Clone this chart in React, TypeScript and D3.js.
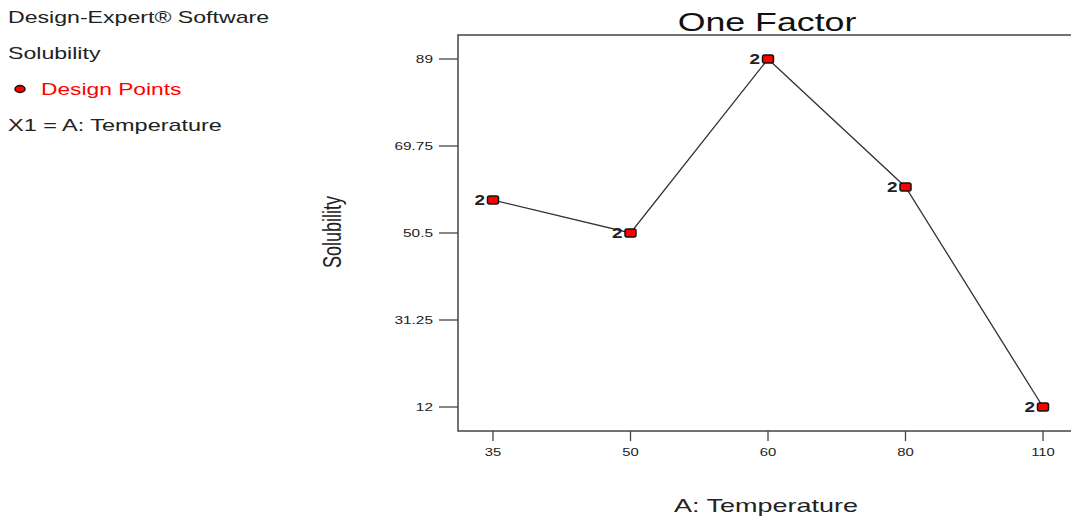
import React, { useEffect, useRef } from 'react';
import * as d3 from 'd3';

// chart data
const temperatures = ['35', '50', '60', '80', '110'];
const solubility = [57.8, 50.5, 89, 60.7, 12];
const replicates = [2, 2, 2, 2, 2];
const yTicks = [12, 31.25, 50.5, 69.75, 89];
const legendLines = ['Design-Expert® Software', 'Solubility'];

const FONT = 'Arial, "Liberation Sans", sans-serif';

const App = () => {
  const svgRef = useRef<SVGSVGElement>(null);

  useEffect(() => {
    const width = 1071;
    const height = 517;
    const frame = { left: 458, top: 35, right: 1090, bottom: 431 };

    const svg = d3.select(svgRef.current);
    svg.selectAll('*').remove();
    svg.attr('width', width).attr('height', height);

    // scales
    const x = d3.scalePoint<string>().domain(temperatures).range([493, 1043]);
    const y = d3.scaleLinear().domain([12, 89]).range([407, 59]);

    // the source picture is stretched sideways, so text is widened with scale(sx,1)
    const place = (px: number, py: number, sx: number) =>
      `translate(${px},${py}) scale(${sx},1)`;

    // legend block on the left
    svg
      .selectAll('text.legend')
      .data(legendLines)
      .enter()
      .append('text')
      .attr('class', 'legend')
      .attr('transform', (_, i) => place(8, 23 + i * 36, 1.36))
      .attr('font-family', FONT)
      .attr('font-size', 17)
      .attr('fill', '#222')
      .text((d) => d);

    svg
      .append('ellipse')
      .attr('cx', 20)
      .attr('cy', 89)
      .attr('rx', 5)
      .attr('ry', 3.5)
      .attr('fill', 'red')
      .attr('stroke', '#111')
      .attr('stroke-width', 1.5);

    svg
      .append('text')
      .attr('transform', place(41, 95, 1.34))
      .attr('font-family', FONT)
      .attr('font-size', 17)
      .attr('fill', 'red')
      .text('Design Points');

    svg
      .append('text')
      .attr('transform', place(8, 131, 1.38))
      .attr('font-family', FONT)
      .attr('font-size', 17)
      .attr('fill', '#222')
      .text('X1 = A: Temperature');

    // title
    svg
      .append('text')
      .attr('transform', place(767, 31, 1.43))
      .attr('text-anchor', 'middle')
      .attr('font-family', FONT)
      .attr('font-size', 25)
      .attr('fill', '#111')
      .text('One Factor');

    // frame (left, top, bottom; right side runs off the page)
    svg
      .append('path')
      .attr(
        'd',
        `M${frame.right},${frame.top}H${frame.left}V${frame.bottom}H${frame.right}`
      )
      .attr('fill', 'none')
      .attr('stroke', '#444')
      .attr('stroke-width', 1.5);

    // y axis ticks
    const yAxis = svg.append('g');
    yAxis
      .selectAll('line')
      .data(yTicks)
      .enter()
      .append('line')
      .attr('x1', frame.left - 19)
      .attr('x2', frame.left)
      .attr('y1', (d) => y(d))
      .attr('y2', (d) => y(d))
      .attr('stroke', '#444')
      .attr('stroke-width', 1.3);
    yAxis
      .selectAll('text')
      .data(yTicks)
      .enter()
      .append('text')
      .attr('transform', (d) => place(frame.left - 25, y(d) + 4, 1.4))
      .attr('text-anchor', 'end')
      .attr('font-family', FONT)
      .attr('font-size', 11)
      .attr('fill', '#222')
      .text((d) => String(d));

    // x axis ticks
    const xAxis = svg.append('g');
    xAxis
      .selectAll('line')
      .data(temperatures)
      .enter()
      .append('line')
      .attr('x1', (d) => x(d)!)
      .attr('x2', (d) => x(d)!)
      .attr('y1', frame.bottom)
      .attr('y2', frame.bottom + 10)
      .attr('stroke', '#444')
      .attr('stroke-width', 1.3);
    xAxis
      .selectAll('text')
      .data(temperatures)
      .enter()
      .append('text')
      .attr('transform', (d) => place(x(d)!, frame.bottom + 25, 1.35))
      .attr('text-anchor', 'middle')
      .attr('font-family', FONT)
      .attr('font-size', 11)
      .attr('fill', '#222')
      .text((d) => d);

    // axis titles
    svg
      .append('text')
      .attr('transform', place(766, 512, 1.5))
      .attr('text-anchor', 'middle')
      .attr('font-family', FONT)
      .attr('font-size', 18)
      .attr('fill', '#222')
      .text('A: Temperature');

    svg
      .append('text')
      .attr('transform', `translate(341,232) rotate(-90) scale(1,1.4)`)
      .attr('text-anchor', 'middle')
      .attr('font-family', FONT)
      .attr('font-size', 18)
      .attr('fill', '#222')
      .text('Solubility');

    // line through design points
    const pts = temperatures.map((t, i) => ({ t, v: solubility[i], n: replicates[i] }));
    svg
      .append('path')
      .datum(pts)
      .attr('fill', 'none')
      .attr('stroke', '#333')
      .attr('stroke-width', 1.3)
      .attr(
        'd',
        d3
          .line<{ t: string; v: number }>()
          .x((d) => x(d.t)!)
          .y((d) => y(d.v))
      );

    // markers
    svg
      .selectAll('rect.pt')
      .data(pts)
      .enter()
      .append('rect')
      .attr('class', 'pt')
      .attr('x', (d) => x(d.t)! - 5.5)
      .attr('y', (d) => y(d.v) - 4)
      .attr('width', 11)
      .attr('height', 8)
      .attr('rx', 2)
      .attr('fill', 'red')
      .attr('stroke', '#111')
      .attr('stroke-width', 1.5);

    // replicate counts
    svg
      .selectAll('text.rep')
      .data(pts)
      .enter()
      .append('text')
      .attr('class', 'rep')
      .attr('transform', (d) => place(x(d.t)! - 8, y(d.v) + 5, 1.35))
      .attr('text-anchor', 'end')
      .attr('font-family', FONT)
      .attr('font-size', 14)
      .attr('font-weight', 'bold')
      .attr('fill', '#222')
      .text((d) => String(d.n));
  }, []);

  return (
    <svg
      ref={svgRef}
      style={{ position: 'absolute', left: 0, top: 0, background: '#fff' }}
    ></svg>
  );
};

export default App;
